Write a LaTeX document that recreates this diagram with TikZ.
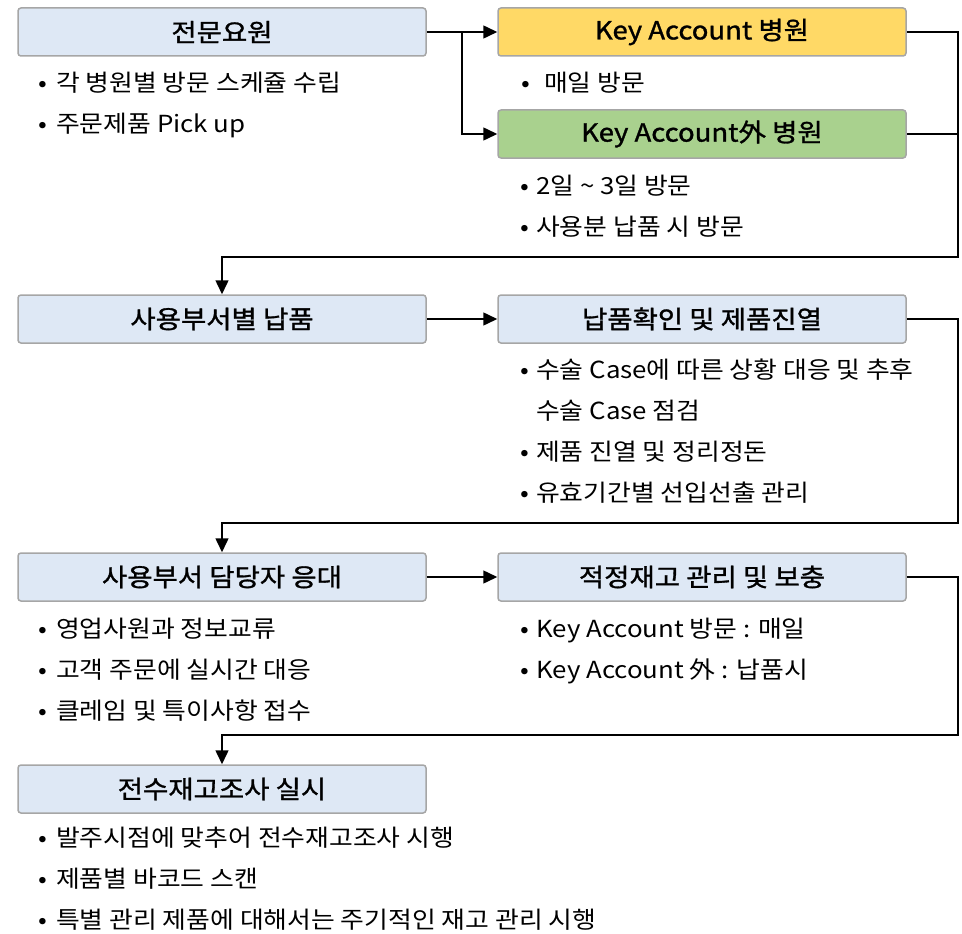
\documentclass[tikz,border=0pt]{standalone}
\usepackage{fontspec}
\setmainfont{Noto Sans CJK KR}[FakeStretch=1.1]
\newfontfamily\stagefont{Noto Sans CJK KR}[FakeStretch=1.1, FakeBold=1.2]
\usetikzlibrary{arrows.meta}

\definecolor{boxblue}{HTML}{DEE8F5}
\definecolor{boxyellow}{HTML}{FFD966}
\definecolor{boxgreen}{HTML}{A9D18E}
\definecolor{boxline}{HTML}{A6A6A6}

\newcommand{\blt}{\makebox[18pt][l]{•}}
\newcommand{\bltr}{\makebox[16pt][l]{•}}

\tikzset{
  stage/.style={draw=boxline, line width=1.5pt, rounded corners=3pt, fill=boxblue,
    minimum width=408pt, minimum height=48pt, inner sep=0pt,
    font=\fontsize{25}{28}\selectfont\stagefont},
  notes/.style={anchor=north west, align=left, inner sep=0pt,
    font=\fontsize{23.5}{41}\selectfont},
  flow/.style={line width=1.5pt, -{Triangle[length=14pt,width=13pt]}},
  link/.style={line width=1.5pt},
}

\begin{document}
\begin{tikzpicture}[x=1pt,y=-1pt]
\useasboundingbox (0,0) rectangle (962,934);

% stages
\node[stage] (exp) at (222,32) {전문요원};
\node[stage, fill=boxyellow] (ka) at (702,32) {Key Account 병원};
\node[stage, fill=boxgreen] (nka) at (702,134) {Key Account外 병원};
\node[stage] (dlv) at (222,319) {사용부서별 납품};
\node[stage] (chk) at (702,319) {납품확인 및 제품진열};
\node[stage] (resp) at (222,577) {사용부서 담당자 응대};
\node[stage] (stock) at (702,577) {적정재고 관리 및 보충};
\node[stage] (inv) at (222,789) {전수재고조사 실시};

% bullet notes
\node[notes] (expnote) at (38,72) {\blt 각 병원별 방문 스케쥴 수립\\ \blt 주문제품 Pick up};
\node[notes] (kanote) at (521,72) {\blt\hspace{5pt}매일 방문};
\node[notes] (nkanote) at (520,175) {\bltr 2일 \textasciitilde{} 3일 방문\\ \bltr 사용분 납품 시 방문};
\node[notes] (chknote) at (520,359) {\bltr 수술 Case에 따른 상황 대응 및 추후\\
  \hspace{16pt}수술 Case 점검\\ \bltr 제품 진열 및 정리정돈\\ \bltr 유효기간별 선입선출 관리};
\node[notes] (respnote) at (38,618) {\blt 영업사원과 정보교류\\ \blt 고객 주문에 실시간 대응\\
  \blt 클레임 및 특이사항 접수};
\node[notes] (stocknote) at (520,618) {\bltr Key Account 방문 : 매일\\ \bltr Key Account 外 : 납품시};
\node[notes] (invnote) at (38,827) {\blt 발주시점에 맞추어 전수재고조사 시행\\ \blt 제품별 바코드 스캔\\
  \blt 특별 관리 제품에 대해서는 주기적인 재고 관리 시행};

% connectors
\coordinate (split) at (462,32);
\coordinate (turn1) at (958,257);
\coordinate (turn2) at (958,523);
\coordinate (turn3) at (958,735);

\draw[link] (exp.east) -- (split);
\draw[flow] (split) -- (ka.west);
\draw[flow] (split) |- (nka.west);
\draw[flow] (ka.east) -| (turn1) -| (dlv.north);
\draw[link] (nka.east) -- (nka.east -| turn1);
\draw[flow] (dlv.east) -- (chk.west);
\draw[flow] (chk.east) -| (turn2) -| (resp.north);
\draw[flow] (resp.east) -- (stock.west);
\draw[flow] (stock.east) -| (turn3) -| (inv.north);

\end{tikzpicture}
\end{document}
